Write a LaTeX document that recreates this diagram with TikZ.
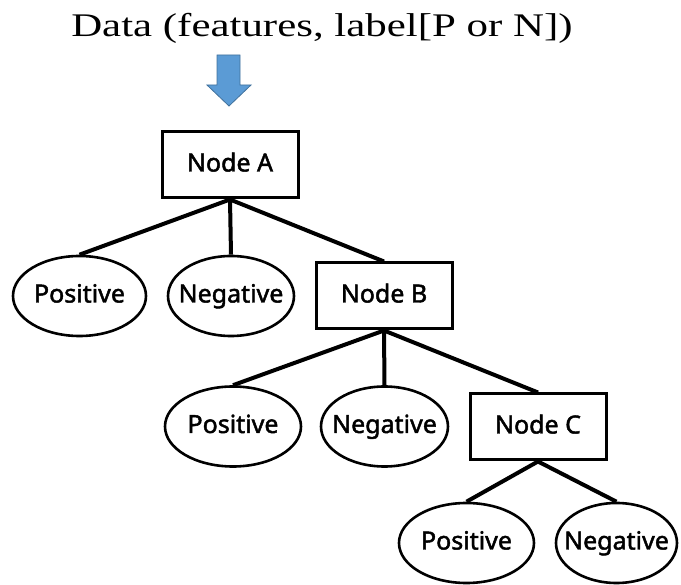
\documentclass[tikz,border=0pt]{standalone}
\usepackage{fontspec}
\setmainfont{Liberation Serif}
\newfontfamily\titlefont{Liberation Serif}[FakeStretch=1.3]
\newfontfamily\nodefont{Noto Sans}[FakeBold=1.8]
\usetikzlibrary{shapes.geometric}
\definecolor{arrowblue}{HTML}{5B9BD5}
\definecolor{arrowline}{HTML}{41719C}
\begin{document}
\begin{tikzpicture}[x=1pt,y=-1pt,
    box/.style={draw,line width=3pt,rectangle,inner sep=0pt,minimum width=136pt,minimum height=66pt,font=\nodefont\fontsize{25}{25}\selectfont,text height=18pt,text depth=5pt},
    leaf/.style={draw,line width=2.6pt,ellipse,inner sep=-12pt,minimum width=133pt,minimum height=80pt,font=\nodefont\fontsize{25}{25}\selectfont,text height=18pt,text depth=5pt},
    branch/.style={line width=4pt}]
    \useasboundingbox (0,0) rectangle (681,585);

    \node[anchor=base,font=\titlefont\fontsize{33}{33}\selectfont] (title) at (322,37) {Data (features, label[P or N])};

    % input arrow
    \fill[arrowblue,draw=arrowline,line width=0.8pt] (217,55) -- (240,55) -- (240,85) -- (251,85) -- (229,106) -- (207,85) -- (217,85) -- cycle;

    \node[box] (A) at (230,165) {Node A};
    \node[leaf] (A1) at (79.5,296) {Positive};
    \node[leaf,minimum width=126pt] (A2) at (231,296) {Negative};
    \node[box] (B) at (384,296) {Node B};

    \node[leaf,minimum width=136pt] (B1) at (233,426.5) {Positive};
    \node[leaf,minimum width=127pt] (B2) at (384.5,426.5) {Negative};
    \node[box] (C) at (538,427) {Node C};

    \node[leaf,minimum width=135pt] (C1) at (466.5,543) {Positive};
    \node[leaf,minimum width=121pt] (C2) at (616.5,543) {Negative};

    \draw[branch] (A.south) -- (A1.north);
    \draw[branch] (A.south) -- (A2.north);
    \draw[branch] (A.south) -- (B.north);

    \draw[branch] (B.south) -- (B1.north);
    \draw[branch] (B.south) -- (B2.north);
    \draw[branch] (B.south) -- (C.north);

    \draw[branch] (C.south) -- (C1.north);
    \draw[branch] (C.south) -- (C2.north);
\end{tikzpicture}
\end{document}
